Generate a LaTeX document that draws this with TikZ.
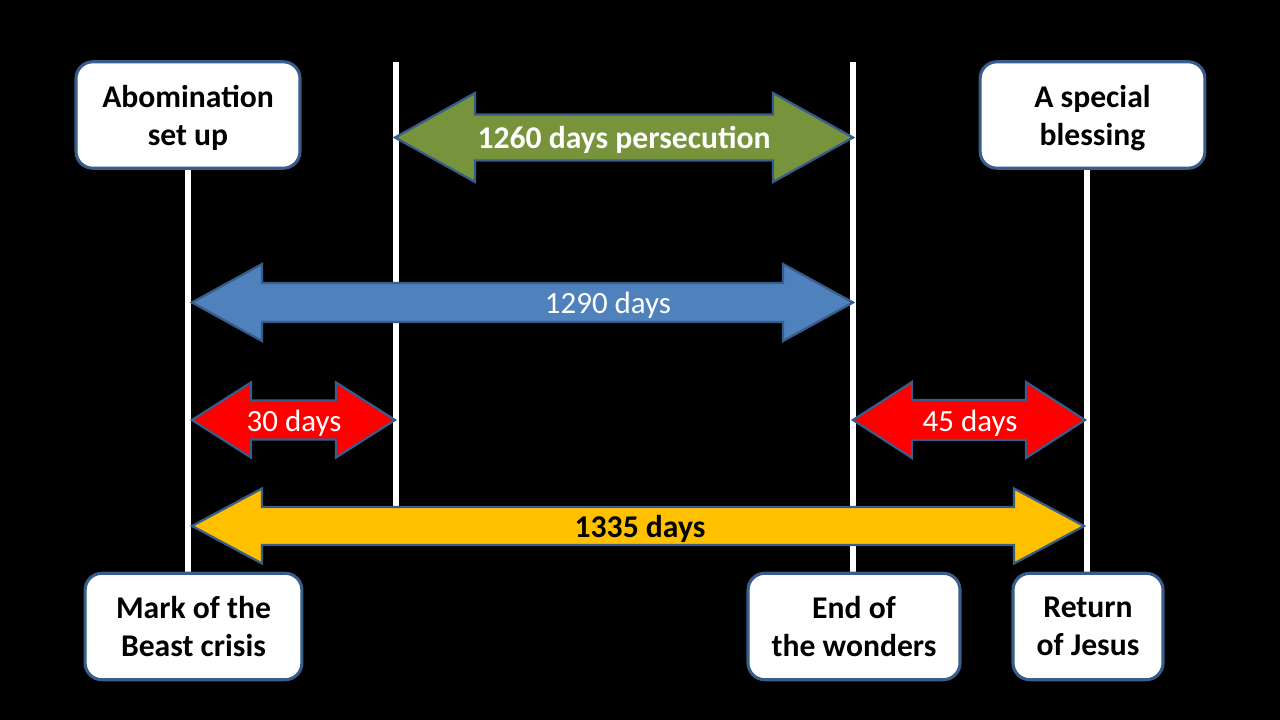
\documentclass[tikz,border=0pt]{standalone}
\usepackage{fontspec}
\setmainfont{Carlito}
\usetikzlibrary{calc}

\definecolor{edgeblue}{HTML}{385D8A}
\definecolor{persgreen}{HTML}{77933C}
\definecolor{spanblue}{HTML}{4F81BD}
\definecolor{spanred}{HTML}{FF0000}
\definecolor{spanyellow}{HTML}{FFC000}

\tikzset{
  event/.style={draw=edgeblue, line width=2.2pt, fill=white, rounded corners=0.42cm,
    minimum height=2.66cm, align=center, text depth=0pt,
    font=\fontsize{22.5}{27}\selectfont\bfseries},
  timeline/.style={draw=white, line width=0.15cm},
  span/.style={draw=edgeblue, line width=1.6pt, line join=miter},
  spanlabel/.style={font=\fontsize{22}{27}\selectfont, text=white, yshift=-2pt},
}

% double headed block arrow: style, left x, right x, centre y, head length, half head, half shaft
\newcommand{\twoway}[7]{%
  \draw[#1] (#2,#4) -- ({#2+#5},{#4-#6}) -- ({#2+#5},{#4-#7}) -- ({#3-#5},{#4-#7})
    -- ({#3-#5},{#4-#6}) -- (#3,#4) -- ({#3-#5},{#4+#6}) -- ({#3-#5},{#4+#7})
    -- ({#2+#5},{#4+#7}) -- ({#2+#5},{#4+#6}) -- cycle;}

\begin{document}
\begin{tikzpicture}[x=0.025cm, y=-0.025cm]
    \fill[black] (0,0) rectangle (1280,720);
    \useasboundingbox (0,0) rectangle (1280,720);

    \coordinate (A1) at (188,168);  \coordinate (A2) at (188,573);
    \coordinate (B1) at (396,62);   \coordinate (B2) at (396,506);
    \coordinate (C1) at (853,62);   \coordinate (C2) at (853,573);
    \coordinate (D1) at (1087,168); \coordinate (D2) at (1087,573);

    \draw[timeline] (A1) -- (A2);
    \draw[timeline] (B1) -- (B2);
    \draw[timeline] (C1) -- (C2);
    \draw[timeline] (D1) -- (D2);

    \node[event, minimum width=5.6cm] (abom) at (188,115) {Abomination\\set up};
    \node[event, minimum width=5.62cm] (bless) at (1092.5,115) {A special\\blessing};
    \node[event, minimum width=5.42cm] (mark) at (193.5,626.5) {Mark of the\\Beast crisis};
    \node[event, minimum width=5.3cm] (wonders) at (854,626.5) {End of\\the wonders};
    \node[event, minimum width=3.75cm] (jesus) at (1088,626.5) {Return\\of Jesus};

    \twoway{span, fill=persgreen}{395}{853}{137.5}{80}{44.5}{23}
    \twoway{span, fill=spanblue}{192}{853}{302.5}{70}{38.5}{19.5}
    \twoway{span, fill=spanred}{192}{395}{420}{59}{37.5}{19.5}
    \twoway{span, fill=spanred}{853}{1085}{420}{59}{38}{20}
    \twoway{span, fill=spanyellow}{192}{1084}{526}{70}{37.5}{19}

    \node[spanlabel, font=\fontsize{22.5}{27}\selectfont\bfseries] (d1260) at (624,137.5) {1260 days persecution};
    \node[spanlabel] (d1290) at (608,302.5) {1290 days};
    \node[spanlabel] (d30) at (294,420) {30 days};
    \node[spanlabel] (d45) at (970,420) {45 days};
    \node[spanlabel, text=black, font=\fontsize{22.5}{27}\selectfont\bfseries] (d1335) at (640,526) {1335 days};
  \end{tikzpicture}
\end{document}
